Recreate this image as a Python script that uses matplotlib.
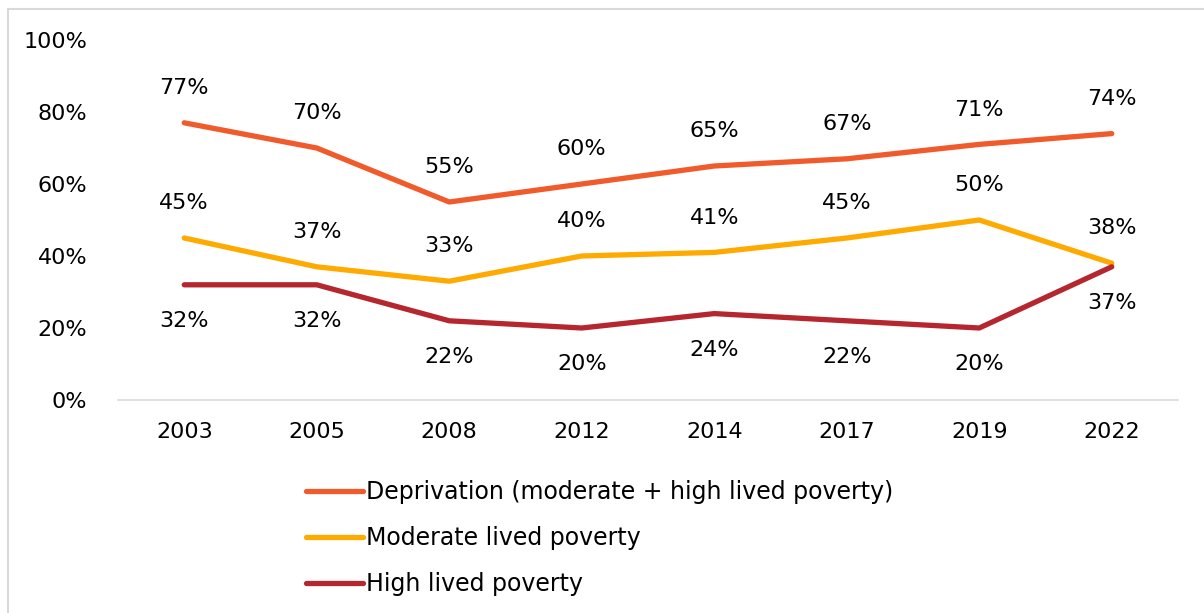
import matplotlib.pyplot as plt
from matplotlib.patches import Rectangle

years = ['2003', '2005', '2008', '2012', '2014', '2017', '2019', '2022']
deprivation = [77, 70, 55, 60, 65, 67, 71, 74]
moderate = [45, 37, 33, 40, 41, 45, 50, 38]
high = [32, 32, 22, 20, 24, 22, 20, 37]

labels = ['Deprivation (moderate + high lived poverty)',
          'Moderate lived poverty',
          'High lived poverty']
colors = ['#F15A2B', '#FFAA00', '#B5262E']

plt.rcParams['font.family'] = ['DejaVu Sans']
fs = 16

fig = plt.figure(figsize=(12.04, 6.13), dpi=100)
ax = fig.add_axes([118 / 1204, 1 - 400 / 613, 1060 / 1204, 360 / 613])

x = list(range(len(years)))
series = [deprivation, moderate, high]
for vals, lab, col in zip(series, labels, colors):
    ax.plot(x, vals, color=col, lw=3.8, label=lab, solid_capstyle='round')

# data labels: deprivation and moderate above, high below
for i in x:
    ax.annotate(f'{deprivation[i]}%', (i, deprivation[i]), xytext=(0, 25),
                textcoords='offset points', ha='center', va='center', fontsize=fs)
    ax.annotate(f'{moderate[i]}%', (i, moderate[i]), xytext=(0, 25),
                textcoords='offset points', ha='center', va='center', fontsize=fs)
    ax.annotate(f'{high[i]}%', (i, high[i]), xytext=(0, -26),
                textcoords='offset points', ha='center', va='center', fontsize=fs)

ax.set_xlim(-0.5, len(years) - 0.5)
ax.set_ylim(0, 100)
ax.set_yticks([0, 20, 40, 60, 80, 100])
ax.set_yticklabels([f'{v}%' for v in [0, 20, 40, 60, 80, 100]])
ax.set_xticks(x)
ax.set_xticklabels(years)
ax.tick_params(axis='both', length=0, labelsize=fs)
ax.tick_params(axis='x', pad=16)
ax.tick_params(axis='y', pad=22)
for side in ['top', 'right', 'left']:
    ax.spines[side].set_visible(False)
ax.spines['bottom'].set_color('#D9D9D9')
ax.spines['bottom'].set_linewidth(1.2)

fig.legend(loc='upper left', bbox_to_anchor=(285 / 1204, 1 - 459 / 613),
           frameon=False, fontsize=17, handlelength=2.4, handletextpad=0.12,
           labelspacing=0.93)

fig.patches.append(Rectangle((8 / 1204, -0.05), 1.1, 1 - 9 / 613 + 0.05,
                             transform=fig.transFigure, fill=False,
                             edgecolor='#D9D9D9', lw=1.5))

fig.savefig('out.png', dpi=100)
